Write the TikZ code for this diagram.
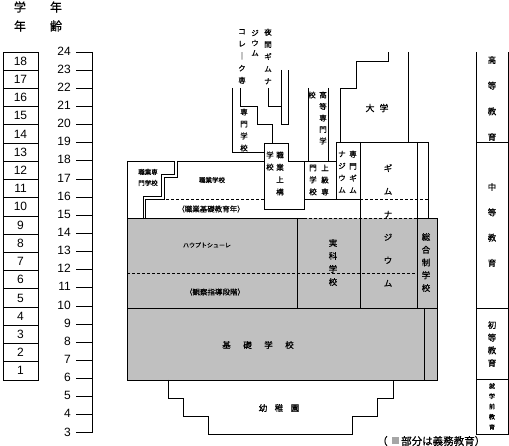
\documentclass[tikz,border=0pt]{standalone}
\usepackage{fontspec}
\setmainfont{Liberation Sans}
\newfontfamily\jp{Noto Sans CJK JP}[FakeBold=0.6]
\definecolor{schoolgray}{HTML}{C0C0C0}
\tikzset{
  ln/.style={line width=0.9pt},
  dsh/.style={line width=0.9pt, dash pattern=on 3pt off 2pt},
  num/.style={font=\fontsize{12}{12}\selectfont, inner sep=0pt},
  jv/.style args={#1/#2}{font=\jp\fontsize{#1}{#2}\selectfont, align=center, inner sep=0pt},
  jh/.style={font=\jp\fontsize{#1}{#1}\selectfont, inner sep=0pt}
}
\begin{document}
\begin{tikzpicture}[x=1pt,y=-1pt]
\useasboundingbox (0,0) rectangle (509,446);
\fill[white] (0,0) rectangle (509,446);

% header
\node[jh=12] (hg1) at (20,7) {学};
\node[jh=12] (hg2) at (20,26) {年};
\node[jh=12] (ha1) at (56,7) {年};
\node[jh=12] (ha2) at (56,26) {齢};

% grade boxes
\foreach \k in {1,...,18} {
  \pgfmathsetmacro\t{52+(18-\k)*18.22}
  \draw[ln] (3,\t) rectangle (38,\t+18.22);
  \node[num] (g\k) at (20.5,\t+9.11) {\k};
}

% age axis
\draw[ln] (92,52) -- (92,433);
\foreach \a in {3,...,24} {
  \pgfmathsetmacro\ty{52+(24-\a)*18.14}
  \draw[ln] (76,\ty) -- (92,\ty);
  \node[num,anchor=east] (a\a) at (71,\ty-1) {\a};
}

% gray compulsory area
\fill[schoolgray] (127,218) rectangle (437,380);
\draw[ln] (127,161) -- (127,380) -- (437,380) -- (437,218) -- (417,218);
\draw[ln] (127,218) -- (304,218);
\draw[dsh] (304,218) -- (417,218);
\draw[ln] (127,308) -- (437,308);
\draw[ln] (424,308) -- (424,380);
\draw[ln] (297,218) -- (297,308);
\draw[ln] (360,142) -- (360,308);
\draw[ln] (417,142) -- (417,308);
\draw[ln] (428,142) -- (428,218);
\draw[dsh] (127,273) -- (417,273);
\draw[ln] (336,142) -- (428,142);
\draw[dsh] (360,199) -- (428,199);

% vocational area
\draw[ln] (127,161) -- (264,161);
\draw[line width=0.9pt,double,double distance=1.6pt] (175.8,161) |- (162.8,176.2) |- (144.3,198.2) -- (144.3,218);
\draw[dsh] (146,199) -- (264,199);

% Berufsaufbauschule box etc.
\draw[ln] (264,143) -- (288,143) -- (288,161) -- (336,161);
\draw[ln] (264,143) -- (264,209) -- (304,209) -- (304,161);
\draw[ln] (304,199) -- (360,199);
\draw[ln] (336,142) -- (336,199);

% Fachhochschule
\draw[ln] (308,88) -- (308,161);
\draw[ln] (328,88) -- (328,161);

% university
\draw[ln] (340,142) -- (340,88) -- (356,88) -- (356,61) -- (388,61) -- (388,52);
\draw[ln] (408,52) -- (408,142);

% Kolleg / Fachschule
\draw[ln] (232,88) -- (232,152) -- (264,152);
\draw[ln] (240,88) -- (240,106) -- (257,106) -- (257,124) -- (272.5,124) -- (272.5,143);
% evening gymnasium
\draw[ln] (268,88) -- (268,106) -- (281,106);
\draw[ln] (281,70) -- (281,124) -- (288,124) -- (288,70);

% kindergarten
\draw[ln] (168,380) -- (168,398) -- (183,398) -- (183,416) -- (208,416) -- (208,434)
  -- (352,434) -- (352,416) -- (377,416) -- (377,398) -- (393,398) -- (393,380);

% right column
\draw[ln] (476,52) -- (476,434) -- (508,434) -- (508,52);
\draw[ln] (476,142) -- (508,142);
\draw[ln] (476,308) -- (508,308);
\draw[ln] (476,379) -- (508,379);

% texts
\node[jv=7.5/12.25] (kol) at (242,56.5) {コ\\レ\\｜\\ク\\専};
\node[jv=7.5/10] (abg2) at (255,43) {ジ\\ウ\\ム};
\node[jv=7.5/12.25] (abg1) at (268,56.5) {夜\\間\\ギ\\ム\\ナ};
\node[jv=7.5/12] (fs) at (244,130) {専\\門\\学\\校};
\node[jv=7.5/12.3] (bas1) at (280,173.5) {職\\業\\上\\構};
\node[jv=7.5/12] (bas2) at (270,161) {学\\校};
\node[jv=7.5/11.5] (fh1) at (323,118) {高\\等\\専\\門\\学};
\node[jv=7.5/12] (fh2) at (312,95) {校};
\node[jv=7.5/12] (fos1) at (325,180) {上\\級\\専};
\node[jv=7.5/12] (fos2) at (313,180) {門\\学\\校};
\node[jv=7.5/12] (fg1) at (353,172) {専\\門\\ギ\\ム};
\node[jv=7.5/12] (fg2) at (342,172) {ナ\\ジ\\ウ\\ム};
\node[jh=9] (uni) at (377,108) {大\hspace{5pt}学};
\node[jv=8.5/23] (gym) at (388,225.5) {ギ\\ム\\ナ\\ジ\\ウ\\ム};
\node[jv=8.5/13] (real) at (333,262.5) {実\\科\\学\\校};
\node[jv=8.5/12.75] (ges) at (426,262.5) {総\\合\\制\\学\\校};
\node[jv=6.5/11, align=left] (bfs) at (148,177.5) {職業専\\門学校};
\node[jh=6.5] (bs) at (212,180) {職業学校};
\node[jh=7.5] (bgj) at (211,209) {（職業基礎教育年）};
\node[jh=6] (hs) at (207,245) {ハウプトシューレ};
\node[jh=7.5] (orient) at (215,292) {（観察指導段階）};
\node[jh=8.5] (gs) at (258,345) {基\hspace{12.5pt}礎\hspace{12.5pt}学\hspace{12.5pt}校};
\node[jh=8.5] (kg) at (279,408) {幼\hspace{7.5pt}稚\hspace{7.5pt}園};

\node[jv=8.5/25.7] (he) at (492,98.5) {高\\等\\教\\育};
\node[jv=8.5/25.3] (se) at (492,225) {中\\等\\教\\育};
\node[jv=8.5/12.7] (pe) at (492,344) {初\\等\\教\\育};
\node[jv=6/10.25] (pre) at (492,406.5) {就\\学\\前\\教\\育};

% footnote
\node[jh=10.5, anchor=west] (n1) at (377,441) {（};
\fill[gray!70] (392,437) rectangle (399,444);
\node[jh=10.5, anchor=west] (n2) at (401,441) {部分は義務教育）};
\end{tikzpicture}
\end{document}
